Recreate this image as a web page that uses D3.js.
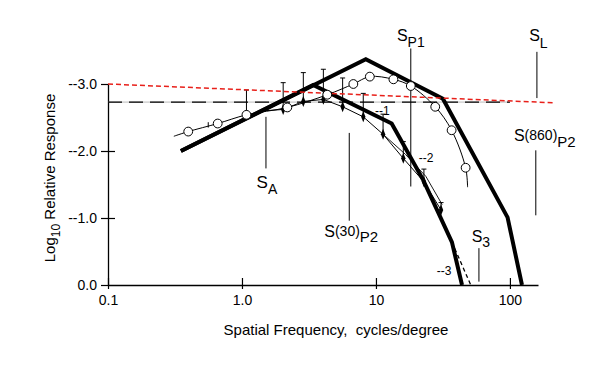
<!DOCTYPE html>
<html><head><meta charset="utf-8">
<script src="https://cdn.jsdelivr.net/npm/d3@7"></script>
<style>
body{margin:0;background:#fff}
text{font-family:"Liberation Sans",Arial,Helvetica,sans-serif;fill:#000;white-space:pre}
</style>
</head><body>
<svg id="c" width="600" height="368"></svg>
<script>
// ---- data ----
const xTickValues = [0.1, 1, 10, 100];
const xTickLabels = ["0.1", "1.0", "10", "100"];
const yTickValues = [0, 1, 2, 3];
const yTickLabels = ["0.0", "--1.0", "--2.0", "--3.0"];

const thickA = [[0.35, 2.0], [8.4, 3.37], [31.6, 2.78], [96, 1.01], [123, 0]];
const thickB = [[0.35, 2.0], [3.4, 2.985], [13.1, 2.41], [22.5, 1.57], [36.9, 0.64], [43.9, 0]];
const s3Dashed = [[36.9, 0.64], [51, 0]];

const circles = [[0.397, 2.29], [0.659, 2.41], [1.08, 2.54], [2.18, 2.65], [4.33, 2.84], [6.78, 3.0],
                 [9.0, 3.11], [13.5, 3.07], [18.2, 2.97], [27.7, 2.66], [36.7, 2.31], [46.7, 1.75]];
const circleCurveStart = [0.31, 2.22];
const circleCurveEnd = [48.3, 1.46];

const diamonds = [[2.03, 2.62], [2.87, 2.74], [4.05, 2.77], [5.64, 2.66], [8.04, 2.51],
                  [11.3, 2.25], [16.0, 1.89], [22.8, 1.54], [30.6, 1.12]];
const diamondLineStart = [1.45, 2.6];
const diamondErrHigh = [3.02, 3.17, 3.22, 3.09, 2.86, 2.55, 2.14, 1.73, 1.23];
const diamondLine2 = [[11.3, 2.25], [16.6, 1.95], [23.6, 1.62], [31.2, 1.2]];

const circleErrBars = [[1.08, 2.54, 2.91, true], [0.56, 2.35, 2.43, false]];

const levelLine = [[0.1, 2.73], [100, 2.73]];
const redLine = [[0.1, 3.0], [209, 2.72]];

const annotations = [
  {id: "SA",   x: 1.51, y0: 1.74, y1: 2.51},
  {id: "S30",  x: 6.32, y0: 0.96, y1: 2.27},
  {id: "SP1",  x: 18.2, y0: 1.47, y1: 3.53},
  {id: "SL",   x: 159,  y0: 2.79, y1: 3.48},
  {id: "S860", x: 156,  y0: 1.04, y1: 2.01},
  {id: "S3",   x: 58.7, y0: 0.05, y1: 0.55}
];
const curveLabels = [["--1", 9.85, 2.54], ["--2", 20.9, 1.84], ["--3", 28.4, 0.15]];

// ---- scales ----
const svg = d3.select("#c");
const x = d3.scaleLog().domain([0.1, 162]).range([108, 538]);
const y = d3.scaleLinear().domain([0, 3]).range([285, 84]);
const line = d3.line().x(d => x(d[0])).y(d => y(d[1]));

// ---- axes ----
const gx = svg.append("g").attr("transform", `translate(0,${y(0)})`)
  .call(d3.axisBottom(x).tickValues(xTickValues).tickFormat((d, i) => xTickLabels[i])
        .tickSizeInner(6).tickSizeOuter(0).tickPadding(4));
gx.select(".domain").attr("stroke", "#000").attr("stroke-width", 1.3);
gx.selectAll(".tick line").attr("y1", -7).attr("y2", 4).attr("stroke-width", 1.2);
gx.selectAll(".tick text").attr("font-size", 14).attr("font-family", null);

const gy = svg.append("g").attr("transform", `translate(${x(0.1)},0)`)
  .call(d3.axisLeft(y).tickValues(yTickValues).tickFormat((d, i) => yTickLabels[i])
        .tickSizeInner(7).tickSizeOuter(0).tickPadding(4));
gy.select(".domain").attr("stroke", "#000").attr("stroke-width", 1.3);
gy.selectAll(".tick line").attr("x2", d => (d === 1 || d === 2) ? 7 : 1).attr("x1", -7).attr("stroke-width", 1.2);
gy.selectAll(".tick text").attr("font-size", 14).attr("font-family", null);

// axis titles
svg.append("text").attr("x", 336).attr("y", 335).attr("text-anchor", "middle")
  .attr("font-size", 15).text("Spatial Frequency,  cycles/degree");
const yt = svg.append("text").attr("transform", "translate(55,178) rotate(-90)")
  .attr("text-anchor", "middle").attr("font-size", 15);
yt.append("tspan").text("Log");
yt.append("tspan").attr("font-size", 12).attr("dy", 5).text("10");
yt.append("tspan").attr("dy", -5).text(" Relative Response");

// ---- reference lines ----
svg.append("path").attr("d", line(levelLine)).attr("fill", "none")
  .attr("stroke", "#aaa").attr("stroke-width", 0.8);
svg.append("path").attr("d", line(levelLine)).attr("fill", "none")
  .attr("stroke", "#000").attr("stroke-width", 1.3).attr("stroke-dasharray", "14,7");

// ---- annotation lines ----
svg.append("g").selectAll("line").data(annotations).join("line")
  .attr("x1", d => x(d.x)).attr("x2", d => x(d.x))
  .attr("y1", d => y(d.y0)).attr("y2", d => y(d.y1))
  .attr("stroke", "#000").attr("stroke-width", 1);

// ---- circle series ----
svg.append("path").attr("d", line.curve(d3.curveCatmullRom)([circleCurveStart, ...circles, circleCurveEnd]))
  .attr("fill", "none").attr("stroke", "#000").attr("stroke-width", 1);
line.curve(d3.curveLinear);

// ---- diamond series ----
svg.append("path").attr("d", line([diamondLineStart, ...diamonds]))
  .attr("fill", "none").attr("stroke", "#000").attr("stroke-width", 1);
svg.append("path").attr("d", line(diamondLine2))
  .attr("fill", "none").attr("stroke", "#000").attr("stroke-width", 0.9);

// error bars
const eb = svg.append("g").attr("stroke", "#000").attr("stroke-width", 1);
diamonds.forEach((d, i) => {
  eb.append("line").attr("x1", x(d[0])).attr("x2", x(d[0])).attr("y1", y(d[1])).attr("y2", y(diamondErrHigh[i]));
  eb.append("line").attr("x1", x(d[0]) - 2.5).attr("x2", x(d[0]) + 2.5).attr("y1", y(diamondErrHigh[i])).attr("y2", y(diamondErrHigh[i]));
});
circleErrBars.forEach(d => {
  eb.append("line").attr("x1", x(d[0])).attr("x2", x(d[0])).attr("y1", y(d[1])).attr("y2", y(d[2]));
  if (d[3]) eb.append("line").attr("x1", x(d[0]) - 2.5).attr("x2", x(d[0]) + 2.5).attr("y1", y(d[2])).attr("y2", y(d[2]));
});

// ---- thick lines ----
svg.append("path").attr("d", line(thickA)).attr("fill", "none").attr("stroke", "#000")
  .attr("stroke-width", 4).attr("stroke-linejoin", "miter");
svg.append("path").attr("d", line(thickB)).attr("fill", "none").attr("stroke", "#000")
  .attr("stroke-width", 4).attr("stroke-linejoin", "miter");
svg.append("path").attr("d", line(s3Dashed)).attr("fill", "none").attr("stroke", "#000")
  .attr("stroke-width", 1.3).attr("stroke-dasharray", "4,3");

// ---- red dashed ----
svg.append("path").attr("d", line(redLine)).attr("fill", "none")
  .attr("stroke", "#e8201a").attr("stroke-width", 1.5).attr("stroke-dasharray", "5,3");

// markers
svg.append("g").selectAll("path").data(diamonds).join("path")
  .attr("d", d3.symbol(d3.symbolDiamond, 26))
  .attr("transform", d => `translate(${x(d[0])},${y(d[1])}) scale(0.8,1.15)`)
  .attr("fill", "#000");
svg.append("g").selectAll("circle").data(circles).join("circle")
  .attr("cx", d => x(d[0])).attr("cy", d => y(d[1])).attr("r", 4.4)
  .attr("fill", "#fff").attr("stroke", "#000").attr("stroke-width", 1);

// ---- curve labels ----
svg.append("g").selectAll("text").data(curveLabels).join("text")
  .attr("x", d => x(d[1])).attr("y", d => y(d[2])).attr("font-size", 12).text(d => d[0]);

// ---- annotation labels ----
function lab(a, pos, dx, off, parts) {
  const px = x(a.x) + dx;
  const py = pos === "below" ? y(a.y0) + off : y(a.y1) - off;
  const t = svg.append("text").attr("x", px).attr("y", py).attr("text-anchor", "middle");
  parts.forEach(p => t.append("tspan").attr("font-size", p[1]).attr("dy", p[2]).text(p[0]));
}
const A = Object.fromEntries(annotations.map(a => [a.id, a]));
lab(A.SA, "below", 1, 20, [["S", 17, 0], ["A", 14, 6]]);
lab(A.S30, "below", 2, 16.5, [["S", 16, 0], ["(30)", 14, -1], ["P2", 15, 6]]);
lab(A.SP1, "above", 0, 7.6, [["S", 16, 0], ["P1", 14, 6]]);
lab(A.SL, "above", 1.5, 11, [["S", 16, 0], ["L", 14, 7]]);
lab(A.S860, "above", 9, 9.3, [["S", 16, 0], ["(860)", 14, -1], ["P2", 15, 7]]);
lab(A.S3, "above", 2, 6.6, [["S", 16, 0], ["3", 14, 5]]);
</script>
</body></html>
